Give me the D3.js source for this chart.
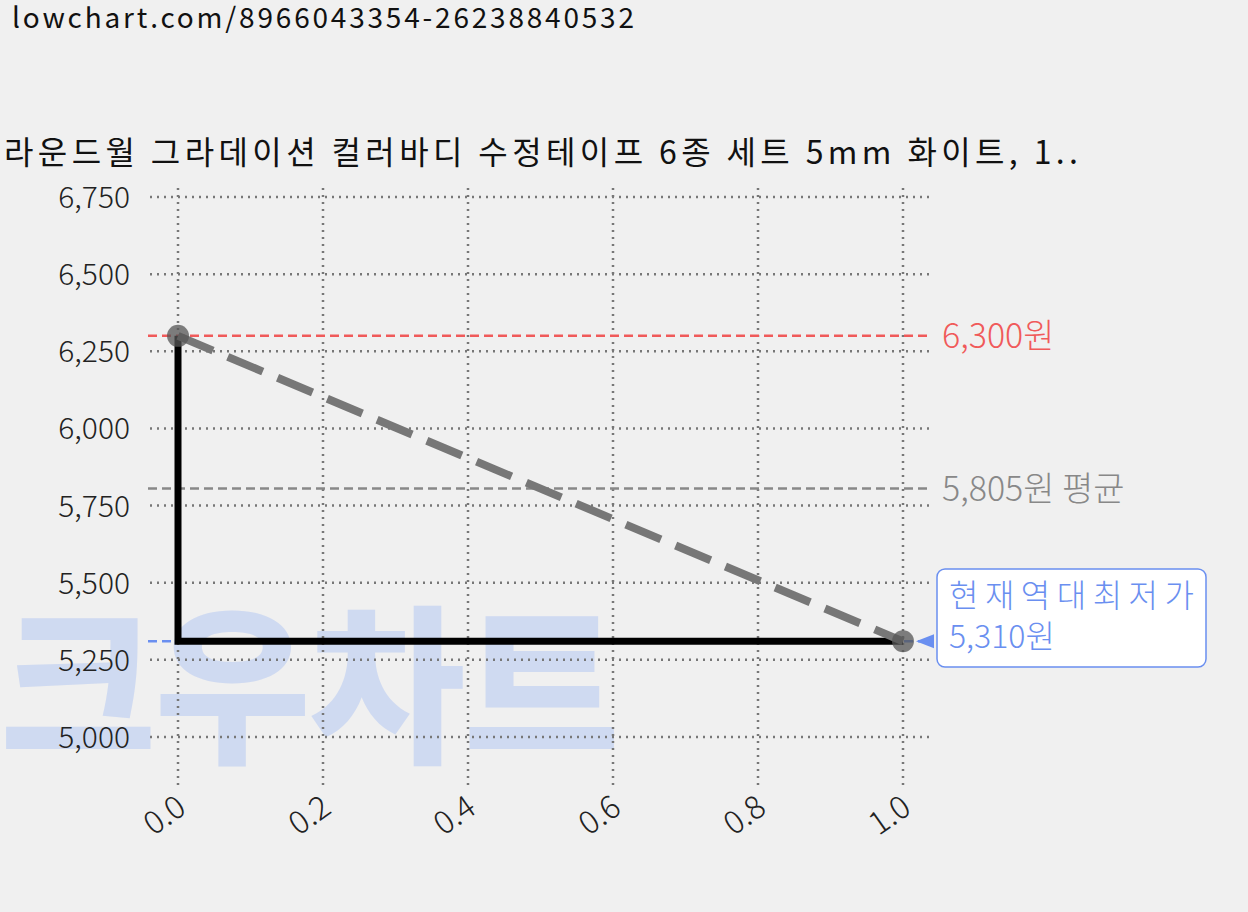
<!DOCTYPE html>
<html><head><meta charset="utf-8">
<script src="https://cdn.jsdelivr.net/npm/d3@7"></script>
<style>body{margin:0;background:#f0f0f0;font-family:"Noto Sans CJK KR","Noto Sans",sans-serif;}</style>
</head><body>
<script>
var xValues = [0, 1];
var prices = [6300, 5310];
var yTicks = [5000, 5250, 5500, 5750, 6000, 6250, 6500, 6750];
var xTicks = [0, 0.2, 0.4, 0.6, 0.8, 1.0];
var maxPrice = 6300, avgPrice = 5805, minPrice = 5310;

var width = 1248, height = 912;
var svg = d3.select("body").append("svg").attr("width", width).attr("height", height);

var x = d3.scaleLinear().domain([0, 1]).range([178, 903]);
var y = d3.scaleLinear().domain([5000, 6750]).range([737, 197]);

// watermark
svg.append("text").attr("x", 0).attr("y", 750).attr("font-size", 170).attr("font-weight", 900)
  .attr("fill", "#c5d3f2").attr("opacity", 0.75).attr("textLength", 620).text("크우차트");

// grid
var g = svg.append("g").attr("stroke", "#777").attr("stroke-width", 2.5).attr("stroke-dasharray", "2,5");
yTicks.forEach(function(t){ g.append("line").attr("x1", 150).attr("x2", 932).attr("y1", y(t)).attr("y2", y(t)); });
xTicks.forEach(function(t){ g.append("line").attr("x1", x(t)).attr("x2", x(t)).attr("y1", 188).attr("y2", 785); });

// tick labels
yTicks.forEach(function(t){
  svg.append("text").attr("x", 130).attr("y", y(t) + 11).attr("text-anchor", "end")
    .attr("font-size", 30).attr("font-weight", 300).attr("fill", "#222").text(d3.format(",")(t));
});
xTicks.forEach(function(t){
  svg.append("text").attr("transform", "translate(" + (x(t) + 10) + ",812) rotate(-35)")
    .attr("text-anchor", "end").attr("font-size", 32).attr("font-weight", 300).attr("fill", "#222").text(t.toFixed(1));
});

// reference lines
function hline(v, color, x2) {
  svg.append("line").attr("x1", 148).attr("x2", x2).attr("y1", y(v)).attr("y2", y(v))
    .attr("stroke", color).attr("stroke-width", 2.5).attr("stroke-dasharray", "9,5");
}
hline(maxPrice, "#f05a5a", 932);
hline(avgPrice, "#888", 932);
hline(minPrice, "#6a8ff0", 930);
svg.append("text").attr("x", 942).attr("y", y(maxPrice) + 12).attr("font-size", 34).attr("font-weight", 300).attr("fill", "#f05a5a").text("6,300원");
svg.append("text").attr("x", 942).attr("y", y(avgPrice) + 12).attr("font-size", 34).attr("font-weight", 300).attr("fill", "#888").text("5,805원 평균");

var pts = xValues.map(function(d, i){ return [x(d), y(prices[i])]; });
svg.append("path").attr("d", d3.line().curve(d3.curveStepBefore)(pts))
  .attr("fill", "none").attr("stroke", "#000").attr("stroke-width", 7);
svg.append("path").attr("d", d3.line()(pts))
  .attr("fill", "none").attr("stroke", "#777").attr("stroke-width", 8).attr("stroke-dasharray", "38,16");
svg.selectAll("circle.p").data(pts).enter().append("circle")
  .attr("cx", function(d){ return d[0]; }).attr("cy", function(d){ return d[1]; }).attr("r", 11)
  .attr("fill", "#555").attr("opacity", 0.75);

// min annotation with arrow pointing to last point
svg.append("path").attr("d", "M934," + (y(minPrice) - 7) + " L916," + y(minPrice) + " L934," + (y(minPrice) + 7) + "Z").attr("fill", "#6a8ff0");
svg.append("rect").attr("x", 937).attr("y", 569).attr("width", 269).attr("height", 98).attr("rx", 8)
  .attr("fill", "#fff").attr("stroke", "#6a8ff0").attr("stroke-width", 1.5);
svg.append("text").attr("x", 949).attr("y", 607).attr("font-size", 32).attr("font-weight", 300).attr("fill", "#6a8ff0").attr("textLength", 245).text("현재역대최저가");
svg.append("text").attr("x", 949).attr("y", 648).attr("font-size", 32).attr("font-weight", 300).attr("fill", "#6a8ff0").text("5,310원");

// titles
svg.append("text").attr("x", 12).attr("y", 28).attr("font-size", 28).attr("fill", "#111").attr("textLength", 622).text("lowchart.com/8966043354-26238840532");
svg.append("text").attr("x", 4).attr("y", 164).attr("font-size", 32).attr("fill", "#111").attr("textLength", 1074).text("라운드월 그라데이션 컬러바디 수정테이프 6종 세트 5mm 화이트, 1..");
</script>
</body></html>
